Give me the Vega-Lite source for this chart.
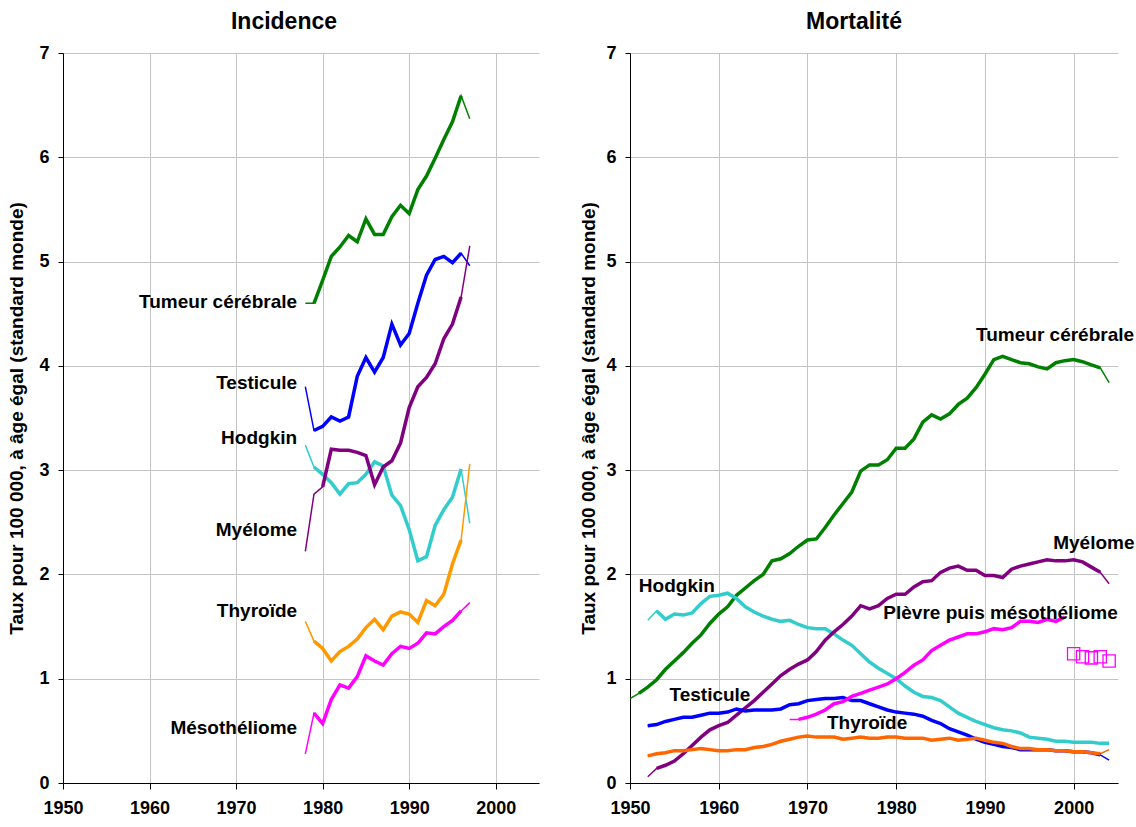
{
"$schema": "https://vega.github.io/schema/vega-lite/v6.json",
"background": "white",
"padding": {"left": 7, "top": 11, "right": 0, "bottom": 0},
"config": {
  "font": "Liberation Sans",
  "view": {"stroke": null},
  "axis": {"labelFont": "Liberation Sans", "labelFontWeight": "bold", "labelFontSize": 18, "labelColor": "black",
           "titleFont": "Liberation Sans", "titleFontWeight": "bold", "titleFontSize": 19, "titleColor": "black",
           "gridColor": "#c4c4c4", "gridWidth": 1, "domainColor": "#000000", "tickColor": "#000000", "labelFlush": false},
  "title": {"font": "Liberation Sans", "fontSize": 23, "fontWeight": "bold", "color": "black"}
},
"datasets": {
  "inc": [
    {"serie":"Tumeur cérébrale","annee":1978,"taux":4.60,"m":0},
    {"serie":"Tumeur cérébrale","annee":1979,"taux":4.60,"m":1},
    {"serie":"Tumeur cérébrale","annee":1980,"taux":4.82,"m":1},
    {"serie":"Tumeur cérébrale","annee":1981,"taux":5.05,"m":1},
    {"serie":"Tumeur cérébrale","annee":1982,"taux":5.14,"m":1},
    {"serie":"Tumeur cérébrale","annee":1983,"taux":5.25,"m":1},
    {"serie":"Tumeur cérébrale","annee":1984,"taux":5.19,"m":1},
    {"serie":"Tumeur cérébrale","annee":1985,"taux":5.41,"m":1},
    {"serie":"Tumeur cérébrale","annee":1986,"taux":5.26,"m":1},
    {"serie":"Tumeur cérébrale","annee":1987,"taux":5.26,"m":1},
    {"serie":"Tumeur cérébrale","annee":1988,"taux":5.43,"m":1},
    {"serie":"Tumeur cérébrale","annee":1989,"taux":5.54,"m":1},
    {"serie":"Tumeur cérébrale","annee":1990,"taux":5.46,"m":1},
    {"serie":"Tumeur cérébrale","annee":1991,"taux":5.69,"m":1},
    {"serie":"Tumeur cérébrale","annee":1992,"taux":5.82,"m":1},
    {"serie":"Tumeur cérébrale","annee":1993,"taux":5.99,"m":1},
    {"serie":"Tumeur cérébrale","annee":1994,"taux":6.17,"m":1},
    {"serie":"Tumeur cérébrale","annee":1995,"taux":6.34,"m":1},
    {"serie":"Tumeur cérébrale","annee":1996,"taux":6.59,"m":1},
    {"serie":"Tumeur cérébrale","annee":1997,"taux":6.37,"m":0},
    {"serie":"Testicule","annee":1978,"taux":3.80,"m":0},
    {"serie":"Testicule","annee":1979,"taux":3.38,"m":1},
    {"serie":"Testicule","annee":1980,"taux":3.42,"m":1},
    {"serie":"Testicule","annee":1981,"taux":3.51,"m":1},
    {"serie":"Testicule","annee":1982,"taux":3.47,"m":1},
    {"serie":"Testicule","annee":1983,"taux":3.51,"m":1},
    {"serie":"Testicule","annee":1984,"taux":3.90,"m":1},
    {"serie":"Testicule","annee":1985,"taux":4.08,"m":1},
    {"serie":"Testicule","annee":1986,"taux":3.94,"m":1},
    {"serie":"Testicule","annee":1987,"taux":4.08,"m":1},
    {"serie":"Testicule","annee":1988,"taux":4.40,"m":1},
    {"serie":"Testicule","annee":1989,"taux":4.20,"m":1},
    {"serie":"Testicule","annee":1990,"taux":4.31,"m":1},
    {"serie":"Testicule","annee":1991,"taux":4.60,"m":1},
    {"serie":"Testicule","annee":1992,"taux":4.87,"m":1},
    {"serie":"Testicule","annee":1993,"taux":5.02,"m":1},
    {"serie":"Testicule","annee":1994,"taux":5.05,"m":1},
    {"serie":"Testicule","annee":1995,"taux":4.99,"m":1},
    {"serie":"Testicule","annee":1996,"taux":5.08,"m":1},
    {"serie":"Testicule","annee":1997,"taux":4.96,"m":0},
    {"serie":"Hodgkin","annee":1978,"taux":3.24,"m":0},
    {"serie":"Hodgkin","annee":1979,"taux":3.03,"m":1},
    {"serie":"Hodgkin","annee":1980,"taux":2.96,"m":1},
    {"serie":"Hodgkin","annee":1981,"taux":2.88,"m":1},
    {"serie":"Hodgkin","annee":1982,"taux":2.77,"m":1},
    {"serie":"Hodgkin","annee":1983,"taux":2.87,"m":1},
    {"serie":"Hodgkin","annee":1984,"taux":2.88,"m":1},
    {"serie":"Hodgkin","annee":1985,"taux":2.96,"m":1},
    {"serie":"Hodgkin","annee":1986,"taux":3.08,"m":1},
    {"serie":"Hodgkin","annee":1987,"taux":3.04,"m":1},
    {"serie":"Hodgkin","annee":1988,"taux":2.76,"m":1},
    {"serie":"Hodgkin","annee":1989,"taux":2.66,"m":1},
    {"serie":"Hodgkin","annee":1990,"taux":2.43,"m":1},
    {"serie":"Hodgkin","annee":1991,"taux":2.13,"m":1},
    {"serie":"Hodgkin","annee":1992,"taux":2.17,"m":1},
    {"serie":"Hodgkin","annee":1993,"taux":2.47,"m":1},
    {"serie":"Hodgkin","annee":1994,"taux":2.62,"m":1},
    {"serie":"Hodgkin","annee":1995,"taux":2.74,"m":1},
    {"serie":"Hodgkin","annee":1996,"taux":3.01,"m":1},
    {"serie":"Hodgkin","annee":1997,"taux":2.49,"m":0},
    {"serie":"Myélome","annee":1978,"taux":2.22,"m":0},
    {"serie":"Myélome","annee":1979,"taux":2.77,"m":0},
    {"serie":"Myélome","annee":1980,"taux":2.84,"m":1},
    {"serie":"Myélome","annee":1981,"taux":3.20,"m":1},
    {"serie":"Myélome","annee":1982,"taux":3.19,"m":1},
    {"serie":"Myélome","annee":1983,"taux":3.19,"m":1},
    {"serie":"Myélome","annee":1984,"taux":3.17,"m":1},
    {"serie":"Myélome","annee":1985,"taux":3.14,"m":1},
    {"serie":"Myélome","annee":1986,"taux":2.86,"m":1},
    {"serie":"Myélome","annee":1987,"taux":3.03,"m":1},
    {"serie":"Myélome","annee":1988,"taux":3.09,"m":1},
    {"serie":"Myélome","annee":1989,"taux":3.26,"m":1},
    {"serie":"Myélome","annee":1990,"taux":3.60,"m":1},
    {"serie":"Myélome","annee":1991,"taux":3.80,"m":1},
    {"serie":"Myélome","annee":1992,"taux":3.89,"m":1},
    {"serie":"Myélome","annee":1993,"taux":4.02,"m":1},
    {"serie":"Myélome","annee":1994,"taux":4.26,"m":1},
    {"serie":"Myélome","annee":1995,"taux":4.40,"m":1},
    {"serie":"Myélome","annee":1996,"taux":4.66,"m":1},
    {"serie":"Myélome","annee":1997,"taux":5.15,"m":0},
    {"serie":"Thyroïde","annee":1978,"taux":1.55,"m":0},
    {"serie":"Thyroïde","annee":1979,"taux":1.36,"m":1},
    {"serie":"Thyroïde","annee":1980,"taux":1.29,"m":1},
    {"serie":"Thyroïde","annee":1981,"taux":1.17,"m":1},
    {"serie":"Thyroïde","annee":1982,"taux":1.26,"m":1},
    {"serie":"Thyroïde","annee":1983,"taux":1.31,"m":1},
    {"serie":"Thyroïde","annee":1984,"taux":1.38,"m":1},
    {"serie":"Thyroïde","annee":1985,"taux":1.49,"m":1},
    {"serie":"Thyroïde","annee":1986,"taux":1.57,"m":1},
    {"serie":"Thyroïde","annee":1987,"taux":1.47,"m":1},
    {"serie":"Thyroïde","annee":1988,"taux":1.60,"m":1},
    {"serie":"Thyroïde","annee":1989,"taux":1.64,"m":1},
    {"serie":"Thyroïde","annee":1990,"taux":1.62,"m":1},
    {"serie":"Thyroïde","annee":1991,"taux":1.54,"m":1},
    {"serie":"Thyroïde","annee":1992,"taux":1.75,"m":1},
    {"serie":"Thyroïde","annee":1993,"taux":1.70,"m":1},
    {"serie":"Thyroïde","annee":1994,"taux":1.81,"m":1},
    {"serie":"Thyroïde","annee":1995,"taux":2.10,"m":1},
    {"serie":"Thyroïde","annee":1996,"taux":2.33,"m":1},
    {"serie":"Thyroïde","annee":1997,"taux":3.06,"m":0},
    {"serie":"Mésothéliome","annee":1978,"taux":0.28,"m":0},
    {"serie":"Mésothéliome","annee":1979,"taux":0.67,"m":1},
    {"serie":"Mésothéliome","annee":1980,"taux":0.57,"m":1},
    {"serie":"Mésothéliome","annee":1981,"taux":0.80,"m":1},
    {"serie":"Mésothéliome","annee":1982,"taux":0.94,"m":1},
    {"serie":"Mésothéliome","annee":1983,"taux":0.91,"m":1},
    {"serie":"Mésothéliome","annee":1984,"taux":1.02,"m":1},
    {"serie":"Mésothéliome","annee":1985,"taux":1.22,"m":1},
    {"serie":"Mésothéliome","annee":1986,"taux":1.17,"m":1},
    {"serie":"Mésothéliome","annee":1987,"taux":1.13,"m":1},
    {"serie":"Mésothéliome","annee":1988,"taux":1.24,"m":1},
    {"serie":"Mésothéliome","annee":1989,"taux":1.31,"m":1},
    {"serie":"Mésothéliome","annee":1990,"taux":1.29,"m":1},
    {"serie":"Mésothéliome","annee":1991,"taux":1.34,"m":1},
    {"serie":"Mésothéliome","annee":1992,"taux":1.44,"m":1},
    {"serie":"Mésothéliome","annee":1993,"taux":1.43,"m":1},
    {"serie":"Mésothéliome","annee":1994,"taux":1.50,"m":1},
    {"serie":"Mésothéliome","annee":1995,"taux":1.56,"m":1},
    {"serie":"Mésothéliome","annee":1996,"taux":1.65,"m":1},
    {"serie":"Mésothéliome","annee":1997,"taux":1.73,"m":0}
  ],
  "mort": [
    {"serie":"Tumeur cérébrale","annee":1950,"taux":0.81,"m":0},
    {"serie":"Tumeur cérébrale","annee":1951,"taux":0.86,"m":1},
    {"serie":"Tumeur cérébrale","annee":1952,"taux":0.92,"m":1},
    {"serie":"Tumeur cérébrale","annee":1953,"taux":0.99,"m":1},
    {"serie":"Tumeur cérébrale","annee":1954,"taux":1.09,"m":1},
    {"serie":"Tumeur cérébrale","annee":1955,"taux":1.17,"m":1},
    {"serie":"Tumeur cérébrale","annee":1956,"taux":1.25,"m":1},
    {"serie":"Tumeur cérébrale","annee":1957,"taux":1.34,"m":1},
    {"serie":"Tumeur cérébrale","annee":1958,"taux":1.42,"m":1},
    {"serie":"Tumeur cérébrale","annee":1959,"taux":1.53,"m":1},
    {"serie":"Tumeur cérébrale","annee":1960,"taux":1.62,"m":1},
    {"serie":"Tumeur cérébrale","annee":1961,"taux":1.69,"m":1},
    {"serie":"Tumeur cérébrale","annee":1962,"taux":1.80,"m":1},
    {"serie":"Tumeur cérébrale","annee":1963,"taux":1.87,"m":1},
    {"serie":"Tumeur cérébrale","annee":1964,"taux":1.94,"m":1},
    {"serie":"Tumeur cérébrale","annee":1965,"taux":2.00,"m":1},
    {"serie":"Tumeur cérébrale","annee":1966,"taux":2.13,"m":1},
    {"serie":"Tumeur cérébrale","annee":1967,"taux":2.15,"m":1},
    {"serie":"Tumeur cérébrale","annee":1968,"taux":2.20,"m":1},
    {"serie":"Tumeur cérébrale","annee":1969,"taux":2.27,"m":1},
    {"serie":"Tumeur cérébrale","annee":1970,"taux":2.33,"m":1},
    {"serie":"Tumeur cérébrale","annee":1971,"taux":2.34,"m":1},
    {"serie":"Tumeur cérébrale","annee":1972,"taux":2.45,"m":1},
    {"serie":"Tumeur cérébrale","annee":1973,"taux":2.57,"m":1},
    {"serie":"Tumeur cérébrale","annee":1974,"taux":2.68,"m":1},
    {"serie":"Tumeur cérébrale","annee":1975,"taux":2.79,"m":1},
    {"serie":"Tumeur cérébrale","annee":1976,"taux":2.99,"m":1},
    {"serie":"Tumeur cérébrale","annee":1977,"taux":3.05,"m":1},
    {"serie":"Tumeur cérébrale","annee":1978,"taux":3.05,"m":1},
    {"serie":"Tumeur cérébrale","annee":1979,"taux":3.10,"m":1},
    {"serie":"Tumeur cérébrale","annee":1980,"taux":3.21,"m":1},
    {"serie":"Tumeur cérébrale","annee":1981,"taux":3.21,"m":1},
    {"serie":"Tumeur cérébrale","annee":1982,"taux":3.30,"m":1},
    {"serie":"Tumeur cérébrale","annee":1983,"taux":3.46,"m":1},
    {"serie":"Tumeur cérébrale","annee":1984,"taux":3.53,"m":1},
    {"serie":"Tumeur cérébrale","annee":1985,"taux":3.49,"m":1},
    {"serie":"Tumeur cérébrale","annee":1986,"taux":3.54,"m":1},
    {"serie":"Tumeur cérébrale","annee":1987,"taux":3.63,"m":1},
    {"serie":"Tumeur cérébrale","annee":1988,"taux":3.69,"m":1},
    {"serie":"Tumeur cérébrale","annee":1989,"taux":3.79,"m":1},
    {"serie":"Tumeur cérébrale","annee":1990,"taux":3.92,"m":1},
    {"serie":"Tumeur cérébrale","annee":1991,"taux":4.06,"m":1},
    {"serie":"Tumeur cérébrale","annee":1992,"taux":4.09,"m":1},
    {"serie":"Tumeur cérébrale","annee":1993,"taux":4.06,"m":1},
    {"serie":"Tumeur cérébrale","annee":1994,"taux":4.03,"m":1},
    {"serie":"Tumeur cérébrale","annee":1995,"taux":4.02,"m":1},
    {"serie":"Tumeur cérébrale","annee":1996,"taux":3.99,"m":1},
    {"serie":"Tumeur cérébrale","annee":1997,"taux":3.97,"m":1},
    {"serie":"Tumeur cérébrale","annee":1998,"taux":4.03,"m":1},
    {"serie":"Tumeur cérébrale","annee":1999,"taux":4.05,"m":1},
    {"serie":"Tumeur cérébrale","annee":2000,"taux":4.06,"m":1},
    {"serie":"Tumeur cérébrale","annee":2001,"taux":4.04,"m":1},
    {"serie":"Tumeur cérébrale","annee":2002,"taux":4.01,"m":1},
    {"serie":"Tumeur cérébrale","annee":2003,"taux":3.98,"m":1},
    {"serie":"Tumeur cérébrale","annee":2004,"taux":3.84,"m":0},
    {"serie":"Hodgkin","annee":1952,"taux":1.56,"m":0},
    {"serie":"Hodgkin","annee":1953,"taux":1.65,"m":1},
    {"serie":"Hodgkin","annee":1954,"taux":1.57,"m":1},
    {"serie":"Hodgkin","annee":1955,"taux":1.62,"m":1},
    {"serie":"Hodgkin","annee":1956,"taux":1.61,"m":1},
    {"serie":"Hodgkin","annee":1957,"taux":1.63,"m":1},
    {"serie":"Hodgkin","annee":1958,"taux":1.72,"m":1},
    {"serie":"Hodgkin","annee":1959,"taux":1.79,"m":1},
    {"serie":"Hodgkin","annee":1960,"taux":1.80,"m":1},
    {"serie":"Hodgkin","annee":1961,"taux":1.82,"m":1},
    {"serie":"Hodgkin","annee":1962,"taux":1.77,"m":1},
    {"serie":"Hodgkin","annee":1963,"taux":1.69,"m":1},
    {"serie":"Hodgkin","annee":1964,"taux":1.64,"m":1},
    {"serie":"Hodgkin","annee":1965,"taux":1.60,"m":1},
    {"serie":"Hodgkin","annee":1966,"taux":1.57,"m":1},
    {"serie":"Hodgkin","annee":1967,"taux":1.55,"m":1},
    {"serie":"Hodgkin","annee":1968,"taux":1.56,"m":1},
    {"serie":"Hodgkin","annee":1969,"taux":1.52,"m":1},
    {"serie":"Hodgkin","annee":1970,"taux":1.49,"m":1},
    {"serie":"Hodgkin","annee":1971,"taux":1.48,"m":1},
    {"serie":"Hodgkin","annee":1972,"taux":1.48,"m":1},
    {"serie":"Hodgkin","annee":1973,"taux":1.43,"m":1},
    {"serie":"Hodgkin","annee":1974,"taux":1.37,"m":1},
    {"serie":"Hodgkin","annee":1975,"taux":1.32,"m":1},
    {"serie":"Hodgkin","annee":1976,"taux":1.24,"m":1},
    {"serie":"Hodgkin","annee":1977,"taux":1.16,"m":1},
    {"serie":"Hodgkin","annee":1978,"taux":1.10,"m":1},
    {"serie":"Hodgkin","annee":1979,"taux":1.05,"m":1},
    {"serie":"Hodgkin","annee":1980,"taux":1.00,"m":1},
    {"serie":"Hodgkin","annee":1981,"taux":0.93,"m":1},
    {"serie":"Hodgkin","annee":1982,"taux":0.87,"m":1},
    {"serie":"Hodgkin","annee":1983,"taux":0.83,"m":1},
    {"serie":"Hodgkin","annee":1984,"taux":0.82,"m":1},
    {"serie":"Hodgkin","annee":1985,"taux":0.79,"m":1},
    {"serie":"Hodgkin","annee":1986,"taux":0.73,"m":1},
    {"serie":"Hodgkin","annee":1987,"taux":0.67,"m":1},
    {"serie":"Hodgkin","annee":1988,"taux":0.63,"m":1},
    {"serie":"Hodgkin","annee":1989,"taux":0.59,"m":1},
    {"serie":"Hodgkin","annee":1990,"taux":0.56,"m":1},
    {"serie":"Hodgkin","annee":1991,"taux":0.53,"m":1},
    {"serie":"Hodgkin","annee":1992,"taux":0.51,"m":1},
    {"serie":"Hodgkin","annee":1993,"taux":0.50,"m":1},
    {"serie":"Hodgkin","annee":1994,"taux":0.48,"m":1},
    {"serie":"Hodgkin","annee":1995,"taux":0.44,"m":1},
    {"serie":"Hodgkin","annee":1996,"taux":0.43,"m":1},
    {"serie":"Hodgkin","annee":1997,"taux":0.42,"m":1},
    {"serie":"Hodgkin","annee":1998,"taux":0.40,"m":1},
    {"serie":"Hodgkin","annee":1999,"taux":0.40,"m":1},
    {"serie":"Hodgkin","annee":2000,"taux":0.39,"m":1},
    {"serie":"Hodgkin","annee":2001,"taux":0.39,"m":1},
    {"serie":"Hodgkin","annee":2002,"taux":0.39,"m":1},
    {"serie":"Hodgkin","annee":2003,"taux":0.38,"m":1},
    {"serie":"Hodgkin","annee":2004,"taux":0.38,"m":1},
    {"serie":"Myélome","annee":1952,"taux":0.06,"m":0},
    {"serie":"Myélome","annee":1953,"taux":0.14,"m":1},
    {"serie":"Myélome","annee":1954,"taux":0.17,"m":1},
    {"serie":"Myélome","annee":1955,"taux":0.21,"m":1},
    {"serie":"Myélome","annee":1956,"taux":0.28,"m":1},
    {"serie":"Myélome","annee":1957,"taux":0.36,"m":1},
    {"serie":"Myélome","annee":1958,"taux":0.44,"m":1},
    {"serie":"Myélome","annee":1959,"taux":0.51,"m":1},
    {"serie":"Myélome","annee":1960,"taux":0.55,"m":1},
    {"serie":"Myélome","annee":1961,"taux":0.58,"m":1},
    {"serie":"Myélome","annee":1962,"taux":0.65,"m":1},
    {"serie":"Myélome","annee":1963,"taux":0.72,"m":1},
    {"serie":"Myélome","annee":1964,"taux":0.79,"m":1},
    {"serie":"Myélome","annee":1965,"taux":0.87,"m":1},
    {"serie":"Myélome","annee":1966,"taux":0.95,"m":1},
    {"serie":"Myélome","annee":1967,"taux":1.03,"m":1},
    {"serie":"Myélome","annee":1968,"taux":1.09,"m":1},
    {"serie":"Myélome","annee":1969,"taux":1.14,"m":1},
    {"serie":"Myélome","annee":1970,"taux":1.18,"m":1},
    {"serie":"Myélome","annee":1971,"taux":1.26,"m":1},
    {"serie":"Myélome","annee":1972,"taux":1.37,"m":1},
    {"serie":"Myélome","annee":1973,"taux":1.45,"m":1},
    {"serie":"Myélome","annee":1974,"taux":1.52,"m":1},
    {"serie":"Myélome","annee":1975,"taux":1.60,"m":1},
    {"serie":"Myélome","annee":1976,"taux":1.70,"m":1},
    {"serie":"Myélome","annee":1977,"taux":1.67,"m":1},
    {"serie":"Myélome","annee":1978,"taux":1.70,"m":1},
    {"serie":"Myélome","annee":1979,"taux":1.77,"m":1},
    {"serie":"Myélome","annee":1980,"taux":1.81,"m":1},
    {"serie":"Myélome","annee":1981,"taux":1.81,"m":1},
    {"serie":"Myélome","annee":1982,"taux":1.88,"m":1},
    {"serie":"Myélome","annee":1983,"taux":1.93,"m":1},
    {"serie":"Myélome","annee":1984,"taux":1.94,"m":1},
    {"serie":"Myélome","annee":1985,"taux":2.02,"m":1},
    {"serie":"Myélome","annee":1986,"taux":2.06,"m":1},
    {"serie":"Myélome","annee":1987,"taux":2.08,"m":1},
    {"serie":"Myélome","annee":1988,"taux":2.04,"m":1},
    {"serie":"Myélome","annee":1989,"taux":2.04,"m":1},
    {"serie":"Myélome","annee":1990,"taux":1.99,"m":1},
    {"serie":"Myélome","annee":1991,"taux":1.99,"m":1},
    {"serie":"Myélome","annee":1992,"taux":1.97,"m":1},
    {"serie":"Myélome","annee":1993,"taux":2.05,"m":1},
    {"serie":"Myélome","annee":1994,"taux":2.08,"m":1},
    {"serie":"Myélome","annee":1995,"taux":2.10,"m":1},
    {"serie":"Myélome","annee":1996,"taux":2.12,"m":1},
    {"serie":"Myélome","annee":1997,"taux":2.14,"m":1},
    {"serie":"Myélome","annee":1998,"taux":2.13,"m":1},
    {"serie":"Myélome","annee":1999,"taux":2.13,"m":1},
    {"serie":"Myélome","annee":2000,"taux":2.14,"m":1},
    {"serie":"Myélome","annee":2001,"taux":2.12,"m":1},
    {"serie":"Myélome","annee":2002,"taux":2.07,"m":1},
    {"serie":"Myélome","annee":2003,"taux":2.02,"m":1},
    {"serie":"Myélome","annee":2004,"taux":1.91,"m":0},
    {"serie":"Testicule","annee":1952,"taux":0.55,"m":1},
    {"serie":"Testicule","annee":1953,"taux":0.56,"m":1},
    {"serie":"Testicule","annee":1954,"taux":0.59,"m":1},
    {"serie":"Testicule","annee":1955,"taux":0.61,"m":1},
    {"serie":"Testicule","annee":1956,"taux":0.63,"m":1},
    {"serie":"Testicule","annee":1957,"taux":0.63,"m":1},
    {"serie":"Testicule","annee":1958,"taux":0.65,"m":1},
    {"serie":"Testicule","annee":1959,"taux":0.67,"m":1},
    {"serie":"Testicule","annee":1960,"taux":0.67,"m":1},
    {"serie":"Testicule","annee":1961,"taux":0.68,"m":1},
    {"serie":"Testicule","annee":1962,"taux":0.71,"m":1},
    {"serie":"Testicule","annee":1963,"taux":0.69,"m":1},
    {"serie":"Testicule","annee":1964,"taux":0.70,"m":1},
    {"serie":"Testicule","annee":1965,"taux":0.70,"m":1},
    {"serie":"Testicule","annee":1966,"taux":0.70,"m":1},
    {"serie":"Testicule","annee":1967,"taux":0.71,"m":1},
    {"serie":"Testicule","annee":1968,"taux":0.75,"m":1},
    {"serie":"Testicule","annee":1969,"taux":0.76,"m":1},
    {"serie":"Testicule","annee":1970,"taux":0.79,"m":1},
    {"serie":"Testicule","annee":1971,"taux":0.80,"m":1},
    {"serie":"Testicule","annee":1972,"taux":0.81,"m":1},
    {"serie":"Testicule","annee":1973,"taux":0.81,"m":1},
    {"serie":"Testicule","annee":1974,"taux":0.82,"m":1},
    {"serie":"Testicule","annee":1975,"taux":0.79,"m":1},
    {"serie":"Testicule","annee":1976,"taux":0.79,"m":1},
    {"serie":"Testicule","annee":1977,"taux":0.76,"m":1},
    {"serie":"Testicule","annee":1978,"taux":0.73,"m":1},
    {"serie":"Testicule","annee":1979,"taux":0.70,"m":1},
    {"serie":"Testicule","annee":1980,"taux":0.68,"m":1},
    {"serie":"Testicule","annee":1981,"taux":0.67,"m":1},
    {"serie":"Testicule","annee":1982,"taux":0.66,"m":1},
    {"serie":"Testicule","annee":1983,"taux":0.64,"m":1},
    {"serie":"Testicule","annee":1984,"taux":0.60,"m":1},
    {"serie":"Testicule","annee":1985,"taux":0.57,"m":1},
    {"serie":"Testicule","annee":1986,"taux":0.52,"m":1},
    {"serie":"Testicule","annee":1987,"taux":0.49,"m":1},
    {"serie":"Testicule","annee":1988,"taux":0.46,"m":1},
    {"serie":"Testicule","annee":1989,"taux":0.42,"m":1},
    {"serie":"Testicule","annee":1990,"taux":0.39,"m":1},
    {"serie":"Testicule","annee":1991,"taux":0.37,"m":1},
    {"serie":"Testicule","annee":1992,"taux":0.35,"m":1},
    {"serie":"Testicule","annee":1993,"taux":0.34,"m":1},
    {"serie":"Testicule","annee":1994,"taux":0.32,"m":1},
    {"serie":"Testicule","annee":1995,"taux":0.32,"m":1},
    {"serie":"Testicule","annee":1996,"taux":0.32,"m":1},
    {"serie":"Testicule","annee":1997,"taux":0.32,"m":1},
    {"serie":"Testicule","annee":1998,"taux":0.31,"m":1},
    {"serie":"Testicule","annee":1999,"taux":0.31,"m":1},
    {"serie":"Testicule","annee":2000,"taux":0.30,"m":1},
    {"serie":"Testicule","annee":2001,"taux":0.30,"m":1},
    {"serie":"Testicule","annee":2002,"taux":0.29,"m":1},
    {"serie":"Testicule","annee":2003,"taux":0.27,"m":1},
    {"serie":"Testicule","annee":2004,"taux":0.22,"m":0},
    {"serie":"Thyroïde","annee":1952,"taux":0.26,"m":1},
    {"serie":"Thyroïde","annee":1953,"taux":0.28,"m":1},
    {"serie":"Thyroïde","annee":1954,"taux":0.29,"m":1},
    {"serie":"Thyroïde","annee":1955,"taux":0.31,"m":1},
    {"serie":"Thyroïde","annee":1956,"taux":0.31,"m":1},
    {"serie":"Thyroïde","annee":1957,"taux":0.32,"m":1},
    {"serie":"Thyroïde","annee":1958,"taux":0.33,"m":1},
    {"serie":"Thyroïde","annee":1959,"taux":0.32,"m":1},
    {"serie":"Thyroïde","annee":1960,"taux":0.31,"m":1},
    {"serie":"Thyroïde","annee":1961,"taux":0.31,"m":1},
    {"serie":"Thyroïde","annee":1962,"taux":0.32,"m":1},
    {"serie":"Thyroïde","annee":1963,"taux":0.32,"m":1},
    {"serie":"Thyroïde","annee":1964,"taux":0.34,"m":1},
    {"serie":"Thyroïde","annee":1965,"taux":0.35,"m":1},
    {"serie":"Thyroïde","annee":1966,"taux":0.37,"m":1},
    {"serie":"Thyroïde","annee":1967,"taux":0.40,"m":1},
    {"serie":"Thyroïde","annee":1968,"taux":0.42,"m":1},
    {"serie":"Thyroïde","annee":1969,"taux":0.44,"m":1},
    {"serie":"Thyroïde","annee":1970,"taux":0.45,"m":1},
    {"serie":"Thyroïde","annee":1971,"taux":0.44,"m":1},
    {"serie":"Thyroïde","annee":1972,"taux":0.44,"m":1},
    {"serie":"Thyroïde","annee":1973,"taux":0.44,"m":1},
    {"serie":"Thyroïde","annee":1974,"taux":0.42,"m":1},
    {"serie":"Thyroïde","annee":1975,"taux":0.43,"m":1},
    {"serie":"Thyroïde","annee":1976,"taux":0.44,"m":1},
    {"serie":"Thyroïde","annee":1977,"taux":0.43,"m":1},
    {"serie":"Thyroïde","annee":1978,"taux":0.43,"m":1},
    {"serie":"Thyroïde","annee":1979,"taux":0.44,"m":1},
    {"serie":"Thyroïde","annee":1980,"taux":0.44,"m":1},
    {"serie":"Thyroïde","annee":1981,"taux":0.43,"m":1},
    {"serie":"Thyroïde","annee":1982,"taux":0.43,"m":1},
    {"serie":"Thyroïde","annee":1983,"taux":0.43,"m":1},
    {"serie":"Thyroïde","annee":1984,"taux":0.41,"m":1},
    {"serie":"Thyroïde","annee":1985,"taux":0.42,"m":1},
    {"serie":"Thyroïde","annee":1986,"taux":0.43,"m":1},
    {"serie":"Thyroïde","annee":1987,"taux":0.41,"m":1},
    {"serie":"Thyroïde","annee":1988,"taux":0.42,"m":1},
    {"serie":"Thyroïde","annee":1989,"taux":0.43,"m":1},
    {"serie":"Thyroïde","annee":1990,"taux":0.41,"m":1},
    {"serie":"Thyroïde","annee":1991,"taux":0.39,"m":1},
    {"serie":"Thyroïde","annee":1992,"taux":0.38,"m":1},
    {"serie":"Thyroïde","annee":1993,"taux":0.35,"m":1},
    {"serie":"Thyroïde","annee":1994,"taux":0.33,"m":1},
    {"serie":"Thyroïde","annee":1995,"taux":0.33,"m":1},
    {"serie":"Thyroïde","annee":1996,"taux":0.32,"m":1},
    {"serie":"Thyroïde","annee":1997,"taux":0.32,"m":1},
    {"serie":"Thyroïde","annee":1998,"taux":0.31,"m":1},
    {"serie":"Thyroïde","annee":1999,"taux":0.31,"m":1},
    {"serie":"Thyroïde","annee":2000,"taux":0.30,"m":1},
    {"serie":"Thyroïde","annee":2001,"taux":0.30,"m":1},
    {"serie":"Thyroïde","annee":2002,"taux":0.29,"m":1},
    {"serie":"Thyroïde","annee":2003,"taux":0.28,"m":1},
    {"serie":"Thyroïde","annee":2004,"taux":0.32,"m":0},
    {"serie":"Plèvre puis mésothéliome","annee":1968,"taux":0.61,"m":0},
    {"serie":"Plèvre puis mésothéliome","annee":1969,"taux":0.61,"m":1},
    {"serie":"Plèvre puis mésothéliome","annee":1970,"taux":0.63,"m":1},
    {"serie":"Plèvre puis mésothéliome","annee":1971,"taux":0.66,"m":1},
    {"serie":"Plèvre puis mésothéliome","annee":1972,"taux":0.70,"m":1},
    {"serie":"Plèvre puis mésothéliome","annee":1973,"taux":0.76,"m":1},
    {"serie":"Plèvre puis mésothéliome","annee":1974,"taux":0.78,"m":1},
    {"serie":"Plèvre puis mésothéliome","annee":1975,"taux":0.83,"m":1},
    {"serie":"Plèvre puis mésothéliome","annee":1976,"taux":0.86,"m":1},
    {"serie":"Plèvre puis mésothéliome","annee":1977,"taux":0.89,"m":1},
    {"serie":"Plèvre puis mésothéliome","annee":1978,"taux":0.92,"m":1},
    {"serie":"Plèvre puis mésothéliome","annee":1979,"taux":0.95,"m":1},
    {"serie":"Plèvre puis mésothéliome","annee":1980,"taux":1.00,"m":1},
    {"serie":"Plèvre puis mésothéliome","annee":1981,"taux":1.06,"m":1},
    {"serie":"Plèvre puis mésothéliome","annee":1982,"taux":1.13,"m":1},
    {"serie":"Plèvre puis mésothéliome","annee":1983,"taux":1.18,"m":1},
    {"serie":"Plèvre puis mésothéliome","annee":1984,"taux":1.27,"m":1},
    {"serie":"Plèvre puis mésothéliome","annee":1985,"taux":1.32,"m":1},
    {"serie":"Plèvre puis mésothéliome","annee":1986,"taux":1.37,"m":1},
    {"serie":"Plèvre puis mésothéliome","annee":1987,"taux":1.40,"m":1},
    {"serie":"Plèvre puis mésothéliome","annee":1988,"taux":1.43,"m":1},
    {"serie":"Plèvre puis mésothéliome","annee":1989,"taux":1.43,"m":1},
    {"serie":"Plèvre puis mésothéliome","annee":1990,"taux":1.45,"m":1},
    {"serie":"Plèvre puis mésothéliome","annee":1991,"taux":1.48,"m":1},
    {"serie":"Plèvre puis mésothéliome","annee":1992,"taux":1.47,"m":1},
    {"serie":"Plèvre puis mésothéliome","annee":1993,"taux":1.49,"m":1},
    {"serie":"Plèvre puis mésothéliome","annee":1994,"taux":1.55,"m":1},
    {"serie":"Plèvre puis mésothéliome","annee":1995,"taux":1.55,"m":1},
    {"serie":"Plèvre puis mésothéliome","annee":1996,"taux":1.54,"m":1},
    {"serie":"Plèvre puis mésothéliome","annee":1997,"taux":1.57,"m":1},
    {"serie":"Plèvre puis mésothéliome","annee":1998,"taux":1.55,"m":1},
    {"serie":"Plèvre puis mésothéliome","annee":1999,"taux":1.59,"m":1}
  ],
  "meso": [
    {"annee":2000,"taux":1.24},
    {"annee":2001,"taux":1.21},
    {"annee":2002,"taux":1.20},
    {"annee":2003,"taux":1.21},
    {"annee":2004,"taux":1.17}
  ],
  "labI": [
    {"t":"Tumeur cérébrale","annee":1977.05,"taux":4.61},
    {"t":"Testicule","annee":1977.05,"taux":3.84},
    {"t":"Hodgkin","annee":1977.05,"taux":3.31},
    {"t":"Myélome","annee":1977.05,"taux":2.43},
    {"t":"Thyroïde","annee":1977.05,"taux":1.65},
    {"t":"Mésothéliome","annee":1977.05,"taux":0.53}
  ],
  "labM": [
    {"t":"Tumeur cérébrale","annee":1989.0,"taux":4.30},
    {"t":"Myélome","annee":1997.7,"taux":2.30},
    {"t":"Plèvre puis mésothéliome","annee":1978.55,"taux":1.63},
    {"t":"Hodgkin","annee":1951.0,"taux":1.89},
    {"t":"Testicule","annee":1954.45,"taux":0.84},
    {"t":"Thyroïde","annee":1972.2,"taux":0.58}
  ]
},
"hconcat": [
  {
    "width": 476, "height": 730,
    "title": {"text": "Incidence", "frame": "group", "dx": -17, "offset": 10},
    "encoding": {
      "x": {"field": "annee", "type": "quantitative", "scale": {"domain": [1950, 2005], "nice": false, "zero": false},
            "axis": {"values": [1950,1960,1970,1980,1990,2000], "format": "d", "title": null, "tickSize": 6, "labelPadding": 10}},
      "y": {"field": "taux", "type": "quantitative", "scale": {"domain": [0, 7], "nice": false},
            "axis": {"values": [0,1,2,3,4,5,6,7], "title": "Taux pour 100 000, à âge égal (standard monde)", "tickSize": 5, "labelPadding": 9, "titlePadding": 12}}
    },
    "layer": [
      {"data": {"name": "inc"}, "mark": {"type": "line", "strokeWidth": 1.5},
       "encoding": {"color": {"field": "serie", "type": "nominal", "legend": null,
         "scale": {"domain": ["Tumeur cérébrale","Testicule","Hodgkin","Myélome","Thyroïde","Mésothéliome"],
                   "range": ["#008000","#0000FF","#33CCCC","#800080","#FF9900","#FF00FF"]}}}},
      {"data": {"name": "inc"}, "transform": [{"filter": "datum.m == 1"}], "mark": {"type": "line", "strokeWidth": 3.5},
       "encoding": {"color": {"field": "serie", "type": "nominal", "legend": null}}},
      {"data": {"name": "labI"}, "mark": {"type": "text", "align": "right", "baseline": "middle", "fontSize": 19, "fontWeight": "bold", "color": "black"},
       "encoding": {"text": {"field": "t"}}}
    ]
  },
  {
    "width": 488, "height": 730,
    "title": {"text": "Mortalité", "frame": "group", "dx": -20, "offset": 10},
    "encoding": {
      "x": {"field": "annee", "type": "quantitative", "scale": {"domain": [1950, 2005], "nice": false, "zero": false},
            "axis": {"values": [1950,1960,1970,1980,1990,2000], "format": "d", "title": null, "tickSize": 6, "labelPadding": 10}},
      "y": {"field": "taux", "type": "quantitative", "scale": {"domain": [0, 7], "nice": false},
            "axis": {"values": [0,1,2,3,4,5,6,7], "title": "Taux pour 100 000, à âge égal (standard monde)", "tickSize": 5, "labelPadding": 9, "titlePadding": 7}}
    },
    "layer": [
      {"data": {"name": "mort"}, "mark": {"type": "line", "strokeWidth": 1.5},
       "encoding": {"color": {"field": "serie", "type": "nominal", "legend": null,
         "scale": {"domain": ["Tumeur cérébrale","Hodgkin","Myélome","Testicule","Thyroïde","Plèvre puis mésothéliome"],
                   "range": ["#008000","#33CCCC","#800080","#0000FF","#FF6600","#FF00FF"]}}}},
      {"data": {"name": "mort"}, "transform": [{"filter": "datum.m == 1"}], "mark": {"type": "line", "strokeWidth": 3.5},
       "encoding": {"color": {"field": "serie", "type": "nominal", "legend": null}}},
      {"data": {"name": "meso"}, "mark": {"type": "point", "shape": "square", "filled": false, "size": 150, "strokeWidth": 1.3, "color": "#FF00FF", "opacity": 1}},
      {"data": {"name": "labM"}, "mark": {"type": "text", "align": "left", "baseline": "middle", "fontSize": 19, "fontWeight": "bold", "color": "black"},
       "encoding": {"text": {"field": "t"}}}
    ]
  }
],
"spacing": 40,
"resolve": {"scale": {"color": "independent", "x": "independent", "y": "independent"}}
}
